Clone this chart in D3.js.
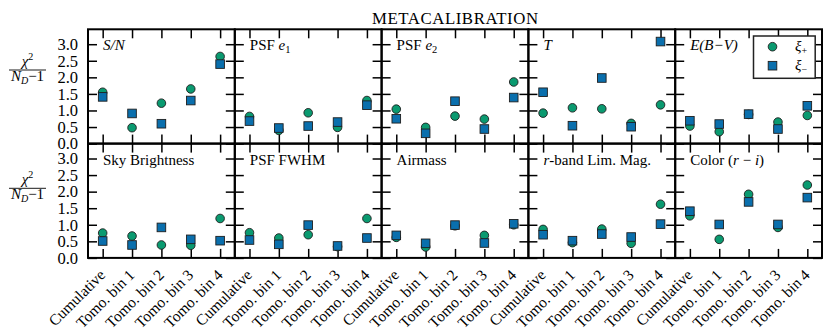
<!DOCTYPE html>
<html>
<head>
<meta charset="utf-8">
<script src="https://cdn.jsdelivr.net/npm/d3@7"></script>
<style>
  body { margin: 0; background: #fff; }
  svg text { font-family: "Liberation Serif", "DejaVu Serif", serif; fill: #000; }
</style>
</head>
<body>
<div id="svg-container"></div>
<script>
// categories along x for every panel
const categories = ["Cumulative", "Tomo. bin 1", "Tomo. bin 2", "Tomo. bin 3", "Tomo. bin 4"];

// panel labels, split in pieces: [text, kind] where kind is "", "i" (italic) or "sub"
const panelLabels = [
  [["S/N", "i"]],
  [["PSF ", ""], ["e", "i"], ["1", "sub"]],
  [["PSF ", ""], ["e", "i"], ["2", "sub"]],
  [["T", "i"]],
  [["E(B\u2212V)", "i"]],
  [["Sky Brightness", ""]],
  [["PSF FWHM", ""]],
  [["Airmass", ""]],
  [["r", "i"], ["-band Lim. Mag.", ""]],
  [["Color (", ""], ["r", "i"], [" \u2212 ", ""], ["i", "i"], [")", ""]]
];

// chi2 / (N_D - 1) for xi_plus (circles) and xi_minus (squares)
const xiPlus = [
  [1.55, 0.48, 1.22, 1.65, 2.63],
  [0.82, 0.40, 0.93, 0.49, 1.30],
  [1.04, 0.49, 0.83, 0.74, 1.86],
  [0.92, 1.08, 1.05, 0.61, 1.17],
  [0.53, 0.36, 0.88, 0.65, 0.85],
  [0.75, 0.66, 0.39, 0.38, 1.19],
  [0.76, 0.60, 0.70, 0.34, 1.19],
  [0.62, 0.33, 0.97, 0.68, 1.00],
  [0.86, 0.46, 0.87, 0.44, 1.62],
  [1.27, 0.56, 1.92, 0.92, 2.20]
];
const xiMinus = [
  [1.41, 0.91, 0.60, 1.30, 2.40],
  [0.68, 0.47, 0.53, 0.65, 1.16],
  [0.75, 0.31, 1.28, 0.44, 1.39],
  [1.55, 0.54, 1.98, 0.51, 3.08],
  [0.69, 0.59, 0.89, 0.44, 1.14],
  [0.51, 0.39, 0.92, 0.56, 0.52],
  [0.54, 0.41, 0.99, 0.36, 0.60],
  [0.68, 0.44, 0.99, 0.45, 1.03],
  [0.70, 0.52, 0.72, 0.63, 1.02],
  [1.41, 1.01, 1.69, 1.01, 1.82]
];

const yTicks = [0, 0.5, 1.0, 1.5, 2.0, 2.5, 3.0];
const title = "METACALIBRATION";

const width = 831, height = 336;
const marginLeft = 88, marginTop = 29.3;
const panelW = 146.8, panelH = 114.3;
const nCols = 5;
const tickLen = 9;
const green = "#0a9a70", blue = "#0a6fad", edge = "#1e1e1e";

var svg = d3.select("#svg-container")
  .append("svg")
  .attr("width", width)
  .attr("height", height);

function addLabel(sel, pieces, size) {
  pieces.forEach(function (p) {
    var t = sel.append("tspan").text(p[0]);
    if (p[1] === "i") t.attr("font-style", "italic");
    if (p[1] === "sub") t.attr("font-size", size * 0.7).attr("dy", 3);
  });
}

var x = d3.scalePoint().domain(categories).range([0, panelW]).padding(0.5);
var y = d3.scaleLinear().domain([0, 3.45]).range([panelH, 0]);

panelLabels.forEach(function (lab, k) {
  const col = k % nCols, row = Math.floor(k / nCols);
  const g = svg.append("g")
    .attr("transform", "translate(" + (marginLeft + col * panelW) + "," + (marginTop + row * panelH) + ")");

  // inward ticks on all four sides
  const axL = g.append("g").call(d3.axisLeft(y).tickValues(yTicks).tickSize(-tickLen).tickPadding(10).tickFormat(d3.format(".1f")));
  const axR = g.append("g").attr("transform", "translate(" + panelW + ",0)")
    .call(d3.axisRight(y).tickValues(yTicks).tickSize(-tickLen).tickFormat(""));
  const axT = g.append("g").call(d3.axisTop(x).tickSize(-tickLen).tickFormat(""));
  const axB = g.append("g").attr("transform", "translate(0," + panelH + ")")
    .call(d3.axisBottom(x).tickSize(-tickLen));

  [axL, axR, axT, axB].forEach(function (a) {
    a.select(".domain").remove();
    a.selectAll(".tick line").attr("stroke", "#000").attr("stroke-width", 1.5);
  });
  axL.selectAll("text").attr("font-size", 16.5).attr("font-family", "Liberation Serif");
  if (col !== 0) axL.selectAll("text").remove();

  if (row === 1) {
    axB.selectAll("text")
      .attr("font-size", 15.5)
      .attr("font-family", "Liberation Serif")
      .attr("text-anchor", "end")
      .attr("y", 0).attr("dy", 0)
      .attr("transform", "translate(3,18) rotate(-45)");
  } else {
    axB.selectAll("text").remove();
  }

  // frame
  g.append("rect")
    .attr("width", panelW).attr("height", panelH)
    .attr("fill", "none").attr("stroke", "#000").attr("stroke-width", 2);

  // points
  g.selectAll(".plus").data(xiPlus[k]).enter().append("circle")
    .attr("class", "plus")
    .attr("cx", function (d, i) { return x(categories[i]); })
    .attr("cy", function (d) { return y(d); })
    .attr("r", 4.3)
    .attr("fill", green).attr("stroke", edge).attr("stroke-width", 0.9);

  g.selectAll(".minus").data(xiMinus[k]).enter().append("rect")
    .attr("class", "minus")
    .attr("x", function (d, i) { return x(categories[i]) - 4.3; })
    .attr("y", function (d) { return y(d) - 4.3; })
    .attr("width", 8.6).attr("height", 8.6)
    .attr("fill", blue).attr("stroke", edge).attr("stroke-width", 0.9);

  addLabel(g.append("text").attr("x", 15).attr("y", 21).attr("font-size", 15), lab, 15);

  // y label on first column
  if (col === 0) {
    const fy = row === 0 ? 70 : 188.3;
    const lg = svg.append("g").attr("transform", "translate(27.5," + fy + ")");
    const num = lg.append("text").attr("text-anchor", "middle").attr("y", -4).attr("font-size", 15);
    num.append("tspan").attr("font-style", "italic").text("\u03c7");
    num.append("tspan").attr("font-size", 10).attr("dy", -6).text("2");
    lg.append("line").attr("x1", -18.5).attr("x2", 18.5).attr("stroke", "#000").attr("stroke-width", 0.9);
    const den = lg.append("text").attr("text-anchor", "middle").attr("y", 10.5).attr("font-size", 15);
    den.append("tspan").attr("font-style", "italic").text("N");
    den.append("tspan").attr("font-style", "italic").attr("font-size", 10).attr("dy", 3).text("D");
    den.append("tspan").attr("dy", -3).text("\u22121");
  }

  // legend in last panel of top row
  if (k === nCols - 1) {
    const lg = g.append("g").attr("transform", "translate(78.3,6.7)");
    lg.append("rect").attr("width", 61.7).attr("height", 42.3)
      .attr("fill", "#fff").attr("stroke", "#222").attr("stroke-width", 1.5);
    lg.append("circle").attr("cx", 19).attr("cy", 10.7).attr("r", 4.3)
      .attr("fill", green).attr("stroke", edge).attr("stroke-width", 0.9);
    lg.append("rect").attr("x", 14.7).attr("y", 25.4).attr("width", 8.6).attr("height", 8.6)
      .attr("fill", blue).attr("stroke", edge).attr("stroke-width", 0.9);
    const t1 = lg.append("text").attr("x", 41.5).attr("y", 15).attr("font-size", 15);
    t1.append("tspan").attr("font-style", "italic").text("\u03be");
    t1.append("tspan").attr("font-size", 10).attr("dy", 3).text("+");
    const t2 = lg.append("text").attr("x", 41.5).attr("y", 34).attr("font-size", 15);
    t2.append("tspan").attr("font-style", "italic").text("\u03be");
    t2.append("tspan").attr("font-size", 10).attr("dy", 3).text("\u2212");
  }
});

svg.append("text")
  .attr("x", marginLeft + nCols * panelW / 2)
  .attr("y", 24)
  .attr("text-anchor", "middle")
  .attr("font-size", 16.8)
  .attr("textLength", 166)
  .attr("lengthAdjust", "spacing")
  .text(title);
</script>
</body>
</html>
